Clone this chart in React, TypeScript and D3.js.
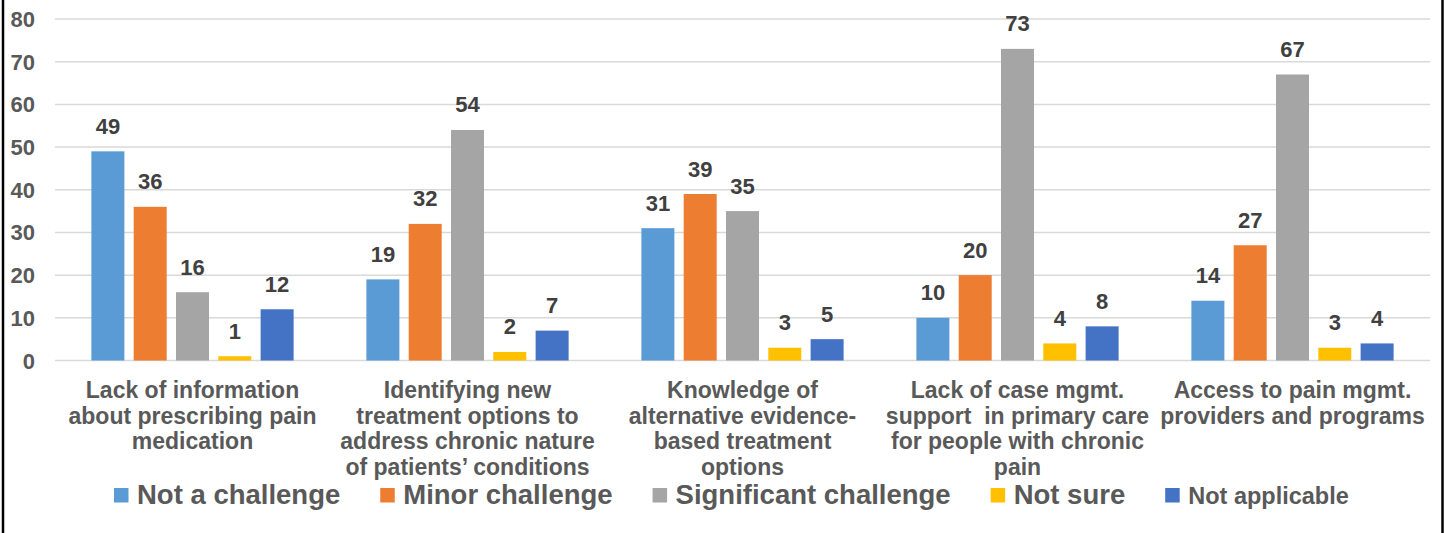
import React, { useEffect, useRef } from "react";
import * as d3 from "d3";

// Survey: perceived challenges in chronic pain care (counts of respondents)
const categoryLines: string[][] = [
  ["Lack of information", "about prescribing pain", "medication"],
  ["Identifying new", "treatment options to", "address chronic nature", "of patients\u2019 conditions"],
  ["Knowledge of", "alternative evidence-", "based treatment", "options"],
  ["Lack of case mgmt.", "support  in primary care", "for people with chronic", "pain"],
  ["Access to pain mgmt.", "providers and programs"],
];
const categories = categoryLines.map((l) => l.join(" "));

const seriesNames = ["Not a challenge", "Minor challenge", "Significant challenge", "Not sure", "Not applicable"];
const seriesColors = ["#5B9BD5", "#ED7D31", "#A5A5A5", "#FFC000", "#4472C4"];

const notAChallenge = [49, 19, 31, 10, 14];
const minorChallenge = [36, 32, 39, 20, 27];
const significantChallenge = [16, 54, 35, 73, 67];
const notSure = [1, 2, 3, 4, 3];
const notApplicable = [12, 7, 5, 8, 4];
const seriesValues = [notAChallenge, minorChallenge, significantChallenge, notSure, notApplicable];

const yTicks = [0, 10, 20, 30, 40, 50, 60, 70, 80];

const W = 1447;
const H = 533;
const FONT = "'Liberation Sans', Arial, Helvetica, sans-serif";

export default function App() {
  const ref = useRef<SVGSVGElement | null>(null);

  useEffect(() => {
    const svg = d3.select(ref.current);
    svg.selectAll("*").remove();

    const x0 = d3.scaleBand<string>().domain(categories).range([55, 1430]).padding(0);
    const x1 = d3
      .scaleBand<string>()
      .domain(seriesNames)
      .range([0, x0.bandwidth()])
      .paddingInner(0.22)
      .paddingOuter(0.86);
    const y = d3.scaleLinear().domain([0, 80]).range([360.5, 19]);

    svg.append("rect").attr("width", W).attr("height", H).attr("fill", "#ffffff");

    // frame edges
    svg.append("line").attr("x1", 3).attr("x2", 3).attr("y1", 0).attr("y2", H).attr("stroke", "#000").attr("stroke-width", 2.5);
    svg.append("line").attr("x1", 1442.5).attr("x2", 1442.5).attr("y1", 0).attr("y2", H).attr("stroke", "#000").attr("stroke-width", 2.5);

    // gridlines
    svg
      .append("g")
      .selectAll("line")
      .data(yTicks)
      .join("line")
      .attr("x1", x0.range()[0])
      .attr("x2", x0.range()[1])
      .attr("y1", (d) => y(d))
      .attr("y2", (d) => y(d))
      .attr("stroke", "#D9D9D9")
      .attr("stroke-width", 1.5);

    // y tick labels
    svg
      .append("g")
      .selectAll("text")
      .data(yTicks)
      .join("text")
      .attr("x", 35)
      .attr("y", (d) => y(d) + 8)
      .attr("text-anchor", "end")
      .attr("font-family", FONT)
      .attr("font-weight", "bold")
      .attr("font-size", 22)
      .attr("fill", "#595959")
      .text((d) => d);

    // bars and value labels
    const groups = svg
      .append("g")
      .selectAll("g")
      .data(categories)
      .join("g")
      .attr("transform", (c) => `translate(${x0(c)},0)`);

    groups.each(function (c, ci) {
      const g = d3.select(this);
      const rows = seriesNames.map((s, si) => ({ s, v: seriesValues[si][ci], color: seriesColors[si] }));
      g.selectAll("rect")
        .data(rows)
        .join("rect")
        .attr("x", (d) => x1(d.s)!)
        .attr("width", x1.bandwidth())
        .attr("y", (d) => y(d.v))
        .attr("height", (d) => y(0) - y(d.v))
        .attr("fill", (d) => d.color);
      g.selectAll("text")
        .data(rows)
        .join("text")
        .attr("x", (d) => x1(d.s)! + x1.bandwidth() / 2)
        .attr("y", (d) => y(d.v) - 17.5)
        .attr("text-anchor", "middle")
        .attr("font-family", FONT)
        .attr("font-weight", "bold")
        .attr("font-size", 22)
        .attr("fill", "#404040")
        .text((d) => d.v);
    });

    // category labels
    const catG = svg.append("g");
    categories.forEach((c, ci) => {
      const t = catG
        .append("text")
        .attr("text-anchor", "middle")
        .attr("font-family", FONT)
        .attr("font-weight", "bold")
        .attr("font-size", 23)
        .attr("fill", "#595959")
        .style("white-space", "pre");
      categoryLines[ci].forEach((line, li) => {
        t.append("tspan")
          .attr("x", x0(c)! + x0.bandwidth() / 2)
          .attr("y", 398 + li * 25.5)
          .text(line);
      });
    });

    // legend
    const legend = svg.append("g");
    let lx = 114;
    seriesNames.forEach((name, i) => {
      const fs = i === 4 ? 23.5 : 27.5;
      legend.append("rect").attr("x", lx).attr("y", 488).attr("width", 14.5).attr("height", 14.5).attr("fill", seriesColors[i]);
      const t = legend
        .append("text")
        .attr("x", lx + 23)
        .attr("y", 504)
        .attr("font-family", FONT)
        .attr("font-weight", "bold")
        .attr("font-size", fs)
        .attr("fill", "#595959")
        .text(name);
      const w = (t.node() as SVGTextElement).getComputedTextLength();
      lx += 23 + w + 40;
    });
  }, []);

  return (
    <svg
      ref={ref}
      width={W}
      height={H}
      style={{ position: "absolute", left: 0, top: 0, display: "block" }}
    />
  );
}
